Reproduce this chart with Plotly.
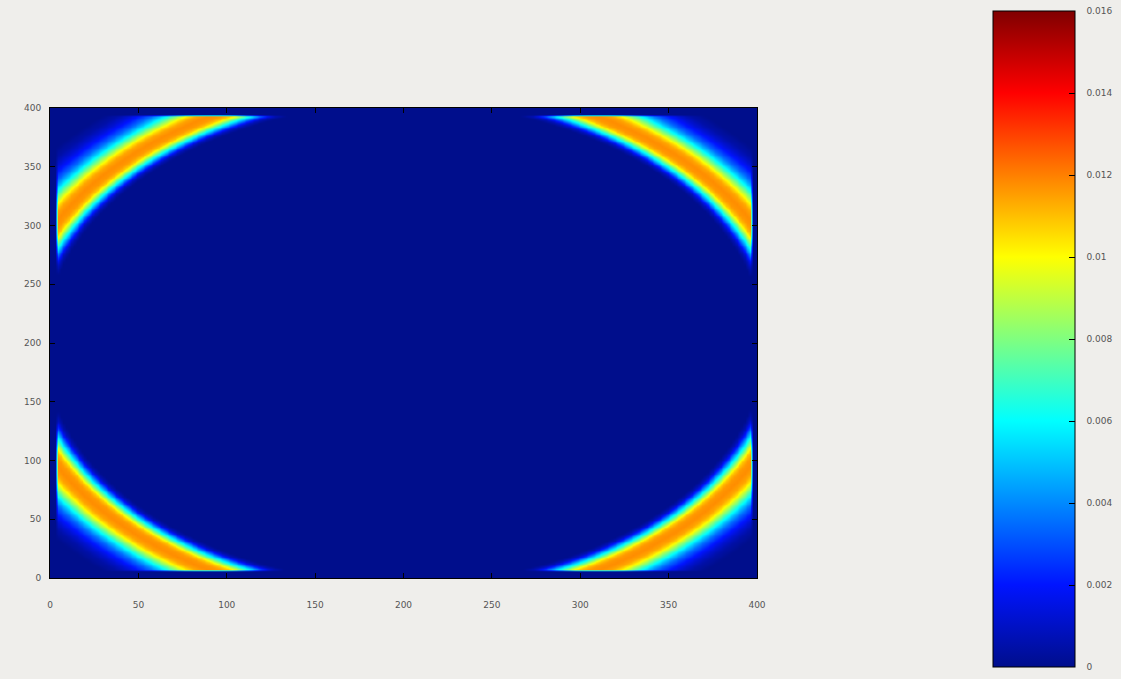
import numpy as np
import plotly.graph_objects as go

# Radial profile of the ring (distance from centre -> value)
ring_radius = [204, 206.5, 208.5, 210.5, 212.5, 214.5, 216.5, 219, 222.5, 226, 228.5, 231, 234, 237, 240, 244, 248, 252, 258]
ring_value = [0.0, 0.0008, 0.0025, 0.0048, 0.0068, 0.0090, 0.0108, 0.0116, 0.0118,
              0.0114, 0.0104, 0.0088, 0.0068, 0.0050, 0.0035, 0.0022, 0.0012, 0.0005, 0.0]
ring_center = [200, 200]
data_x_bounds = [4.5, 396]
data_y_bounds = [7, 394]

axis_ticks = [0, 50, 100, 150, 200, 250, 300, 350, 400]
cbar_ticks = [0, 0.002, 0.004, 0.006, 0.008, 0.01, 0.012, 0.014, 0.016]
cbar_labels = ["0", "0.002", "0.004", "0.006", "0.008", "0.01", "0.012", "0.014", "0.016"]

gx = np.arange(0, 400.5, 1.5)
gy = np.arange(0, 400.5, 1.5)
XX, YY = np.meshgrid(gx, gy)
R = np.hypot(XX - ring_center[0], YY - ring_center[1])
Z = np.interp(R, ring_radius, ring_value, left=0, right=0)
mask = (XX >= data_x_bounds[0]) & (XX <= data_x_bounds[1]) & (YY >= data_y_bounds[0]) & (YY <= data_y_bounds[1])
Z = np.where(mask, Z, 0.0)
Z = np.round(Z, 6)

jet = [
    [0.0, "rgb(0,14,140)"],
    [0.125, "rgb(0,20,255)"],
    [0.375, "rgb(0,255,255)"],
    [0.625, "rgb(255,255,0)"],
    [0.875, "rgb(255,0,0)"],
    [1.0, "rgb(128,0,0)"],
]

L, T, Rm, B = 50, 108, 1121 - 757, 679 - 578
plot_h = 679 - T - B
plot_w = 1121 - L - Rm

pad = "\u00a0" * 3
fig = go.Figure(go.Heatmap(
    x=gx, y=gy, z=Z,
    colorscale=jet, zmin=0, zmax=0.016, zsmooth="best",
    colorbar=dict(
        x=(993 - L) / plot_w, xanchor="left", xpad=0,
        y=(679 - B - 339) / plot_h, yanchor="middle", ypad=0,
        len=656, lenmode="pixels", thickness=82,
        outlinecolor="black", outlinewidth=1,
        tickvals=cbar_ticks, ticktext=[pad + t for t in cbar_labels],
        ticks="inside", ticklen=6, tickcolor="black",
        tickfont=dict(family="DejaVu Sans", size=9, color="#555"),
    ),
    hoverinfo="skip",
))

axis_common = dict(
    range=[0, 400], tickvals=axis_ticks, ticks="inside", ticklen=5,
    tickcolor="black", showline=True, linecolor="black", linewidth=1,
    mirror="ticks", showgrid=False, zeroline=False,
    tickfont=dict(family="DejaVu Sans", size=9, color="#555"),
)
fig.update_xaxes(**axis_common, ticklabelstandoff=18)
fig.update_yaxes(**axis_common, ticklabelstandoff=6)

fig.update_layout(
    width=1121, height=679,
    margin=dict(l=L, r=Rm, t=T, b=B, autoexpand=False),
    paper_bgcolor="rgb(239,238,235)",
    plot_bgcolor="rgb(0,14,140)",
    showlegend=False,
)

fig.write_html(
    "out.html",
    config={"displayModeBar": False},
    post_script="document.body.style.margin='0px';document.body.style.overflow='hidden';"
                "document.body.style.backgroundColor='rgb(239,238,235)';",
)
